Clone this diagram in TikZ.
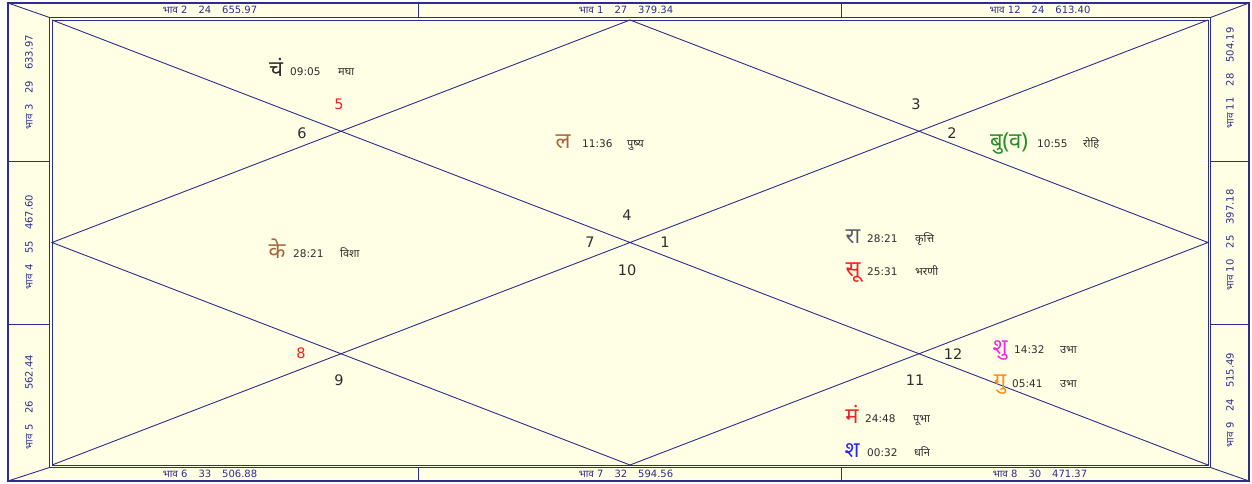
\documentclass[tikz,border=0pt]{standalone}
\usepackage{fontspec}
\usetikzlibrary{calc}
\setmainfont{DejaVu Sans}
\newfontfamily\devfont[Script=Devanagari]{Noto Sans}

\definecolor{chartbg}{RGB}{255,255,230}
\definecolor{chartline}{RGB}{45,45,140}
\definecolor{txtdark}{RGB}{45,45,45}
\definecolor{plbrown}{RGB}{170,100,60}
\definecolor{plgreen}{RGB}{40,140,40}
\definecolor{plgray}{RGB}{90,90,105}
\definecolor{plred}{RGB}{240,35,35}
\definecolor{plmagenta}{RGB}{240,40,220}
\definecolor{plorange}{RGB}{255,140,20}
\definecolor{plblue}{RGB}{40,40,240}

\newcommand{\bhavlabel}[3]{{\devfont भाव}~#1\hspace{11pt}#2\hspace{11pt}#3}

\begin{document}
\begin{tikzpicture}[x=1pt, y=-1pt,
    frame/.style={draw=chartline, line width=0.9pt},
    outerframe/.style={draw=chartline, line width=1.6pt},
    bhav/.style={font=\fontsize{10}{11}\selectfont, text=chartline, inner sep=0pt},
    house/.style={font=\fontsize{14.5}{16}\selectfont, inner sep=0pt},
    graha/.style={font=\devfont\fontsize{22}{24}\selectfont, anchor=base, inner sep=0pt},
    degree/.style={font=\fontsize{10.5}{12}\selectfont, text=txtdark, anchor=base west, inner sep=0pt},
    naksh/.style={font=\devfont\fontsize{11}{12}\selectfont, text=txtdark, anchor=base west, inner sep=0pt}]
    \useasboundingbox (0,0) rectangle (1252,484);

    % outer frame, strip frame and the chart square
    \coordinate (o1) at (8,3);
    \coordinate (o2) at (1249,3);
    \coordinate (o3) at (1249,481);
    \coordinate (o4) at (8,481);
    \coordinate (s1) at (49.5,17.5);
    \coordinate (s2) at (1210.5,17.5);
    \coordinate (s3) at (1210.5,467.5);
    \coordinate (s4) at (49.5,467.5);
    \coordinate (tl) at (52,20);
    \coordinate (tr) at (1208,20);
    \coordinate (br) at (1208,465);
    \coordinate (bl) at (52,465);
    \fill[chartbg] (o1) rectangle (o3);
    \draw[outerframe] (o1) rectangle (o3);
    \draw[frame] (s1) rectangle (s3);
    \draw[frame] (tl) rectangle (br);
    \draw[frame] (o1) -- (s1) (o2) -- (s2) (o3) -- (s3) (o4) -- (s4);

    % strip dividers
    \draw[frame] (418,3) -- (418,17.5) (841,3) -- (841,17.5);
    \draw[frame] (418,467.5) -- (418,481) (841,467.5) -- (841,481);
    \draw[frame] (8,161) -- (49.5,161) (8,324) -- (49.5,324);
    \draw[frame] (1210.5,161) -- (1249,161) (1210.5,324) -- (1249,324);

    % bhav strips
    \node[bhav] (b2) at (210,10) {\bhavlabel{2}{24}{655.97}};
    \node[bhav] (b1) at (626,10) {\bhavlabel{1}{27}{379.34}};
    \node[bhav] (b12) at (1040,10) {\bhavlabel{12}{24}{613.40}};
    \node[bhav] (b6) at (210,474) {\bhavlabel{6}{33}{506.88}};
    \node[bhav] (b7) at (626,474) {\bhavlabel{7}{32}{594.56}};
    \node[bhav] (b8) at (1040,474) {\bhavlabel{8}{30}{471.37}};
    \node[bhav, rotate=90] (b3) at (29,82) {\bhavlabel{3}{29}{633.97}};
    \node[bhav, rotate=90] (b4) at (29,242) {\bhavlabel{4}{55}{467.60}};
    \node[bhav, rotate=90] (b5) at (29,402) {\bhavlabel{5}{26}{562.44}};
    \node[bhav, rotate=90] (b11) at (1230,78) {\bhavlabel{11}{28}{504.19}};
    \node[bhav, rotate=90] (b10) at (1230,240) {\bhavlabel{10}{25}{397.18}};
    \node[bhav, rotate=90] (b9) at (1230,400) {\bhavlabel{9}{24}{515.49}};

    % diagonals and diamond
    \coordinate (mt) at ($(tl)!0.5!(tr)$);
    \coordinate (mr) at ($(tr)!0.5!(br)$);
    \coordinate (mb) at ($(bl)!0.5!(br)$);
    \coordinate (ml) at ($(tl)!0.5!(bl)$);
    \draw[frame] (tl) -- (br) (tr) -- (bl);
    \draw[frame] (mt) -- (mr) -- (mb) -- (ml) -- cycle;

    % house numbers
    \foreach \num/\px/\py/\col in {6/302/133/txtdark, 5/339/104/plred, 3/916/104/txtdark,
        2/952/133/txtdark, 4/627/215/txtdark, 7/590/242/txtdark, 1/665/242/txtdark,
        10/627/270/txtdark, 8/301/353/plred, 9/339/380/txtdark, 12/953/354/txtdark,
        11/915/380/txtdark}
        \node[house, text=\col] (h\num) at (\px,\py) {\num};

    % grahas
    \node[graha, text=txtdark] (chan) at (276,77) {चं};
    \node[degree] (chandeg) at (290,76) {09:05};
    \node[naksh] (channak) at (338,76) {मघा};

    \node[graha, text=plbrown] (lagna) at (563,148) {ल};
    \node[degree] (lagnadeg) at (582,147) {11:36};
    \node[naksh] (lagnanak) at (627,147) {पुष्य};

    \node[graha, text=plgreen] (budh) at (1009,148) {बु(व)};
    \node[degree] (budhdeg) at (1037,147) {10:55};
    \node[naksh] (budhnak) at (1083,147) {रोहि};

    \node[graha, text=plbrown] (ketu) at (277,258) {के};
    \node[degree] (ketudeg) at (293,257) {28:21};
    \node[naksh] (ketunak) at (340,257) {विशा};

    \node[graha, text=plgray] (rahu) at (853,243) {रा};
    \node[degree] (rahudeg) at (867,242) {28:21};
    \node[naksh] (rahunak) at (915,242) {कृत्ति};

    \node[graha, text=plred] (surya) at (853,276) {सू};
    \node[degree] (suryadeg) at (867,275) {25:31};
    \node[naksh] (suryanak) at (915,275) {भरणी};

    \node[graha, text=plmagenta] (shukra) at (1000,354) {शु};
    \node[degree] (shukradeg) at (1014,353) {14:32};
    \node[naksh] (shukranak) at (1060,353) {उभा};

    \node[graha, text=plorange] (guru) at (1000,388) {गु};
    \node[degree] (gurudeg) at (1012,387) {05:41};
    \node[naksh] (gurunak) at (1060,387) {उभा};

    \node[graha, text=plred] (mangal) at (852,423) {मं};
    \node[degree] (mangaldeg) at (865,422) {24:48};
    \node[naksh] (mangalnak) at (913,422) {पूभा};

    \node[graha, text=plblue] (shani) at (852,457) {श};
    \node[degree] (shanideg) at (867,456) {00:32};
    \node[naksh] (shaninak) at (914,456) {धनि};
\end{tikzpicture}
\end{document}
